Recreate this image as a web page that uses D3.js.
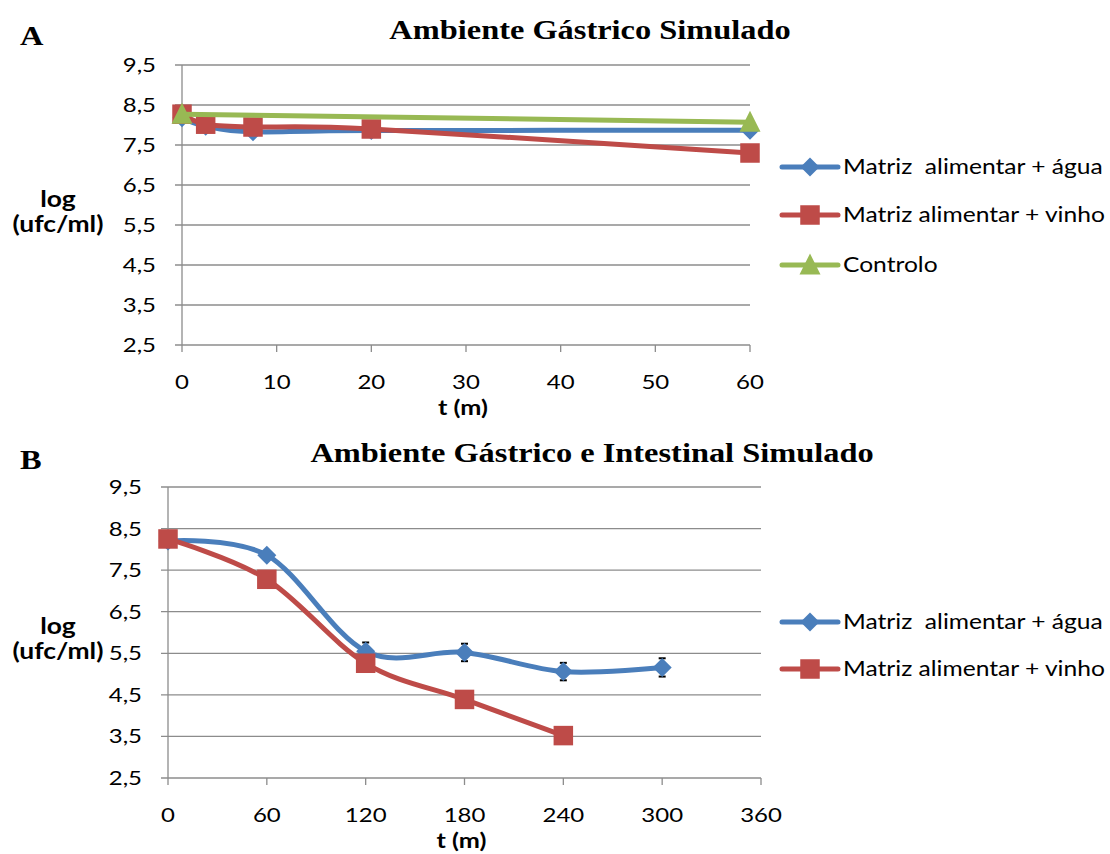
<!DOCTYPE html>
<html>
<head>
<meta charset="utf-8">
<script src="https://cdn.jsdelivr.net/npm/d3@7"></script>
<style>
  html, body { margin: 0; padding: 0; background: #fff; }
  svg { display: block; }
</style>
</head>
<body>
<svg id="chart" width="1110" height="854"></svg>
<script>
// ---- Data ----
// Panel A: simulated gastric environment (time in minutes)
const timeA = [0, 2.5, 7.5, 20, 60];
const aguaA = [8.18, 7.97, 7.83, 7.86, 7.87];
const vinhoA = [8.27, 8.02, 7.95, 7.9, 7.3];
const timeControlo = [0, 60];
const controloA = [8.27, 8.07];

// Panel B: simulated gastric + intestinal environment
const timeB_agua = [0, 60, 120, 180, 240, 300];
const aguaB = [8.2, 7.86, 5.55, 5.52, 5.06, 5.16];
const aguaB_err = [0.05, 0.08, 0.21, 0.21, 0.21, 0.22];
const timeB_vinho = [0, 60, 120, 180, 240];
const vinhoB = [8.25, 7.28, 5.26, 4.39, 3.52];

// Axis ticks
const yTicks = [2.5, 3.5, 4.5, 5.5, 6.5, 7.5, 8.5, 9.5];
const xTicksA = [0, 10, 20, 30, 40, 50, 60];
const xTicksB = [0, 60, 120, 180, 240, 300, 360];

const seriesNames = {
  agua: "Matriz\u00a0 alimentar + água",
  vinho: "Matriz alimentar + vinho",
  controlo: "Controlo"
};

const colors = { agua: "#4a7ebb", vinho: "#be4b48", controlo: "#98b954" };
const gridColor = "#8c8c8c";
const sansFont = "Lato, 'Open Sans', sans-serif";
const serifFont = "'Liberation Serif', 'DejaVu Serif', serif";
const widen = 1.2; // horizontal glyph stretch used for all labels

const svg = d3.select("#chart");
const fmt = v => d3.format(".1f")(v).replace(".", ",");
const smooth = d3.curveCardinal.tension(0);

// text helper: places a label at (x, y) with a horizontal stretch
function label(g, x, y, str, o = {}) {
  return g.append("text")
    .attr("transform", `translate(${x},${y}) scale(${widen},1)`)
    .attr("text-anchor", o.anchor || "start")
    .attr("dy", o.dy || null)
    .attr("font-family", o.family || sansFont)
    .attr("font-size", o.size || 20)
    .attr("font-weight", o.weight || "normal")
    .attr("fill", "#000")
    .text(str);
}

// ---- Marker shapes ----
function drawMarker(g, type, x, y) {
  if (type === "agua") {
    const r = 9.5;
    g.append("path")
      .attr("d", `M${x},${y - r}L${x + r},${y}L${x},${y + r}L${x - r},${y}Z`)
      .attr("fill", colors.agua);
  } else if (type === "vinho") {
    const s = 19.5;
    g.append("rect")
      .attr("x", x - s / 2).attr("y", y - s / 2)
      .attr("width", s).attr("height", s)
      .attr("fill", colors.vinho);
  } else {
    const w = 21, h = 21;
    g.append("path")
      .attr("d", `M${x},${y - h * 0.55}L${x + w / 2},${y + h * 0.45}L${x - w / 2},${y + h * 0.45}Z`)
      .attr("fill", colors.controlo);
  }
}

// ---- Panel builder ----
function panel(opts) {
  const g = svg.append("g");
  const x = d3.scaleLinear().domain(opts.xDomain).range([opts.x0, opts.x1]);
  const y = d3.scaleLinear().domain([2.5, 9.5]).range([opts.yBot, opts.yTop]);

  // horizontal gridlines (extend slightly left of the axis as tick marks)
  g.append("g").selectAll("line").data(yTicks).join("line")
    .attr("x1", opts.x0 - 7).attr("x2", opts.x1)
    .attr("y1", d => y(d)).attr("y2", d => y(d))
    .attr("stroke", gridColor).attr("stroke-width", 1.3);

  // y axis line
  g.append("line")
    .attr("x1", opts.x0).attr("x2", opts.x0)
    .attr("y1", opts.yTop).attr("y2", opts.yBot)
    .attr("stroke", gridColor).attr("stroke-width", 1.3);

  // x axis tick marks
  g.append("g").selectAll("line").data(opts.xTicks).join("line")
    .attr("x1", d => x(d)).attr("x2", d => x(d))
    .attr("y1", opts.yBot).attr("y2", opts.yBot + 7)
    .attr("stroke", gridColor).attr("stroke-width", 1.3);

  // tick labels
  yTicks.forEach(t => label(g, opts.x0 - 26, y(t), fmt(t), { anchor: "end", dy: "0.35em" }));
  opts.xTicks.forEach(t => label(g, x(t), opts.yBot + 44, String(t), { anchor: "middle" }));

  // axis titles
  label(g, (opts.x0 + opts.x1) / 2 - 3, opts.yBot + 70, "t (m)",
    { anchor: "middle", weight: "bold", size: 21 });
  label(g, 58, opts.yLabelY, "log", { anchor: "middle", weight: "bold", size: 22 });
  label(g, 58, opts.yLabelY + 25, "(ufc/ml)", { anchor: "middle", weight: "bold", size: 22 });

  // panel letter and title
  label(g, 20, opts.letterY, opts.letter, { family: serifFont, size: 27, weight: "bold" });
  label(g, opts.titleX, opts.titleY, opts.title,
    { family: serifFont, size: 27, weight: "bold", anchor: "middle" });

  // series
  const line = d3.line().x(d => x(d[0])).y(d => y(d[1])).curve(smooth);
  opts.series.forEach(s => {
    const pts = s.t.map((t, i) => [t, s.v[i]]);
    g.append("path")
      .attr("d", line(pts))
      .attr("fill", "none")
      .attr("stroke", colors[s.key])
      .attr("stroke-width", 5)
      .attr("stroke-linejoin", "round")
      .attr("stroke-linecap", "round");
    if (s.err) {
      const eg = g.append("g");
      pts.forEach((p, i) => {
        const cx = x(p[0]), ylo = y(p[1] - s.err[i]), yhi = y(p[1] + s.err[i]);
        eg.append("line").attr("x1", cx).attr("x2", cx).attr("y1", ylo).attr("y2", yhi)
          .attr("stroke", "#000").attr("stroke-width", 1.5);
        [ylo, yhi].forEach(yy => eg.append("line")
          .attr("x1", cx - 3.5).attr("x2", cx + 3.5).attr("y1", yy).attr("y2", yy)
          .attr("stroke", "#000").attr("stroke-width", 2));
      });
    }
    pts.forEach(p => drawMarker(g, s.key, x(p[0]), y(p[1])));
  });

  // legend
  opts.legendRows.forEach((key, i) => {
    const ly = opts.legendY[i];
    g.append("line")
      .attr("x1", 782).attr("x2", 838).attr("y1", ly).attr("y2", ly)
      .attr("stroke", colors[key]).attr("stroke-width", 5)
      .attr("stroke-linecap", "round");
    drawMarker(g, key, 810, ly);
    label(g, 843, ly, seriesNames[key], { dy: "0.35em", size: 20.5 });
  });
}

panel({
  letter: "A", letterY: 45,
  title: "Ambiente Gástrico Simulado", titleX: 590, titleY: 39,
  x0: 182, x1: 750, yTop: 65, yBot: 345,
  xDomain: [0, 60], xTicks: xTicksA,
  yLabelY: 207,
  series: [
    { key: "agua", t: timeA, v: aguaA },
    { key: "vinho", t: timeA, v: vinhoA },
    { key: "controlo", t: timeControlo, v: controloA }
  ],
  legendRows: ["agua", "vinho", "controlo"],
  legendY: [167, 215, 265]
});

panel({
  letter: "B", letterY: 469,
  title: "Ambiente Gástrico e Intestinal Simulado", titleX: 592, titleY: 462,
  x0: 168, x1: 761, yTop: 487, yBot: 778,
  xDomain: [0, 360], xTicks: xTicksB,
  yLabelY: 634,
  series: [
    { key: "agua", t: timeB_agua, v: aguaB, err: aguaB_err },
    { key: "vinho", t: timeB_vinho, v: vinhoB }
  ],
  legendRows: ["agua", "vinho"],
  legendY: [622, 669]
});
</script>
</body>
</html>
